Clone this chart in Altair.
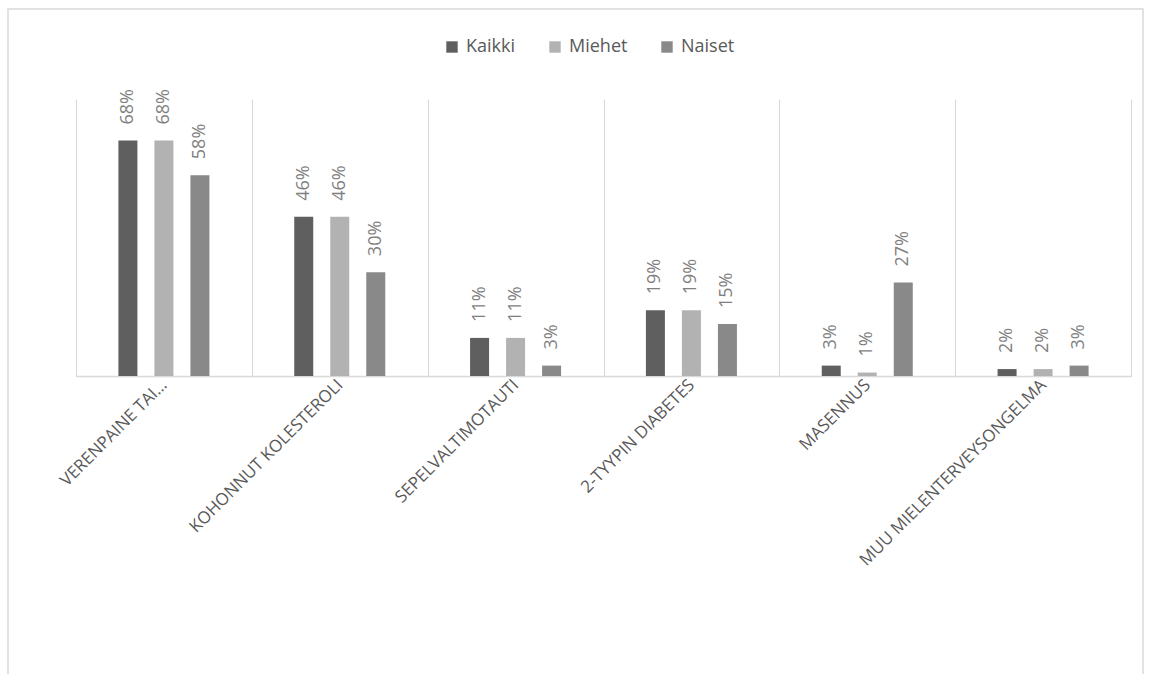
import altair as alt
import pandas as pd

categories = [
    "VERENPAINE TAI…",
    "KOHONNUT KOLESTEROLI",
    "SEPELVALTIMOTAUTI",
    "2-TYYPIN DIABETES",
    "MASENNUS",
    "MUU MIELENTERVEYSONGELMA",
]
series = ["Kaikki", "Miehet", "Naiset"]
kaikki = [0.68, 0.46, 0.11, 0.19, 0.03, 0.02]
miehet = [0.68, 0.46, 0.11, 0.19, 0.01, 0.02]
naiset = [0.58, 0.30, 0.03, 0.15, 0.27, 0.03]
colors = ["#5f5f5f", "#b2b2b2", "#898989"]

rows = []
for i, c in enumerate(categories):
    for s, vals in zip(series, [kaikki, miehet, naiset]):
        rows.append({"kategoria": c, "ryhma": s, "osuus": vals[i]})
df = pd.DataFrame(rows)

W, H = 1055, 277

x = alt.X(
    "kategoria:N",
    sort=categories,
    scale=alt.Scale(paddingInner=0, paddingOuter=0),
    axis=alt.Axis(
        title=None,
        labelAngle=-45,
        labelAlign="right",
        labelBaseline="middle",
        labelFont="Open Sans",
        labelFontSize=17,
        labelColor="#595959",
        labelPadding=6,
        labelLimit=0,
        ticks=False,
        tickBand="extent",
        grid=True,
        gridColor="#d9d9d9",
        gridWidth=1,
        domainColor="#d9d9d9",
        domainWidth=1.5,
    ),
)
xo = alt.XOffset(
    "ryhma:N", sort=series, scale=alt.Scale(paddingInner=0.117, paddingOuter=1)
)
y = alt.Y("osuus:Q", scale=alt.Scale(domain=[0, 0.8]), axis=None)

color = alt.Color(
    "ryhma:N",
    sort=series,
    scale=alt.Scale(domain=series, range=colors),
    legend=alt.Legend(
        title=None,
        orient="none",
        legendX=367,
        legendY=-61,
        direction="horizontal",
        symbolType="square",
        symbolSize=130,
        symbolStrokeWidth=0,
        labelFontSize=18,
        labelFont="Open Sans",
        labelColor="#595959",
        columnPadding=30,
        labelOffset=5,
    ),
)

base = alt.Chart(df)
bars = base.mark_bar(width=19).encode(x=x, xOffset=xo, y=y, color=color)
labels = base.mark_text(
    angle=270, align="left", baseline="middle", dx=16,
    font="Open Sans", fontSize=18, color="#7f7f7f",
).encode(x=x, xOffset=xo, y=y, text=alt.Text("osuus:Q", format=".0%"))

frame = alt.Chart(alt.Data(values=[{"k": 1}])).mark_rect(
    fill=None, stroke="#d9d9d9", strokeWidth=1.5
).encode(
    x=alt.value(-68), x2=alt.value(W + 12), y=alt.value(-90), y2=alt.value(H + 320)
)

chart = alt.layer(frame, bars, labels).properties(
    width=W,
    height=H,
    padding={"left": 76, "top": 99, "right": 22, "bottom": 298},
    autosize=alt.AutoSizeParams(type="none"),
).configure_view(stroke=None)

chart.save("out.html", embed_options={"renderer": "svg", "actions": False})
